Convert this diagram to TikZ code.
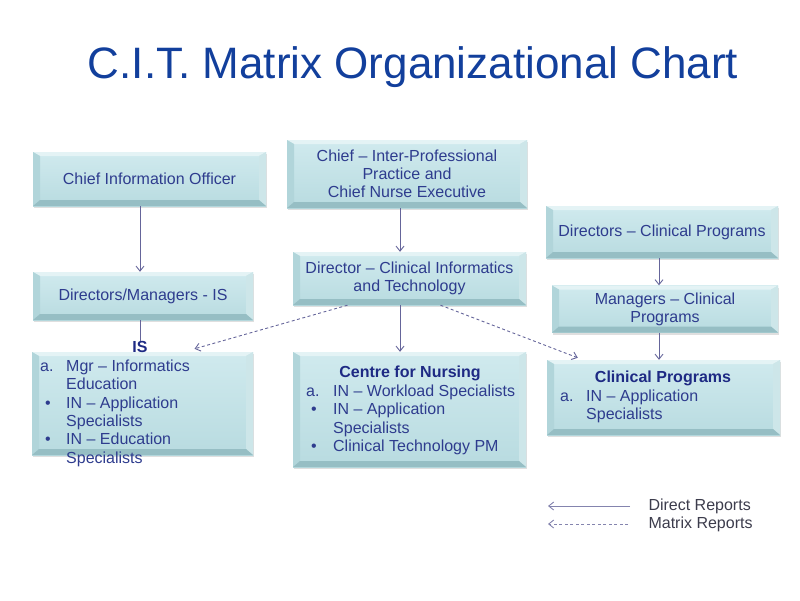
\documentclass[tikz,border=0pt]{standalone}
\usepackage{fontspec}
\setmainfont{Liberation Sans}
\usepackage{tikz}
\usetikzlibrary{arrows.meta,positioning,shadows}
\definecolor{titleblue}{HTML}{123F9C}
\definecolor{ink}{HTML}{2E3C8E}
\definecolor{inkbold}{HTML}{1E2A84}
\definecolor{face}{HTML}{B8DBE0}
\definecolor{facetop}{HTML}{D0EAEE}
\definecolor{edgelight}{HTML}{E4F3F5}
\definecolor{edgedark}{HTML}{96BEC4}
\definecolor{link}{HTML}{65659A}
\definecolor{legendtext}{HTML}{3C3C4C}

\begin{document}
\begin{tikzpicture}[x=1pt,y=-1pt,
    post/.style={inner sep=0pt,top color=facetop,bottom color=face,
                 drop shadow={opacity=0.25,shadow xshift=1pt,shadow yshift=-2pt},
                 path picture={
                   \coordinate (bnw) at (path picture bounding box.north west);
                   \coordinate (bne) at (path picture bounding box.north east);
                   \coordinate (bsw) at (path picture bounding box.south west);
                   \coordinate (bse) at (path picture bounding box.south east);
                   \fill[edgelight] (bnw) -- (bne) -- ([shift={(-7pt,-4pt)}]bne) -- ([shift={(7pt,-4pt)}]bnw) -- cycle;
                   \fill[face!80!edgedark] (bnw) -- ([shift={(7pt,-4pt)}]bnw) -- ([shift={(7pt,6pt)}]bsw) -- (bsw) -- cycle;
                   \fill[face!70!white] (bne) -- ([shift={(-7pt,-4pt)}]bne) -- ([shift={(-7pt,6pt)}]bse) -- (bse) -- cycle;
                   \fill[edgedark] (bsw) -- ([shift={(7pt,6pt)}]bsw) -- ([shift={(-7pt,6pt)}]bse) -- (bse) -- cycle;
                 }},
    lbl/.style={text=ink,font=\fontsize{16}{18}\selectfont,align=center},
    head/.style={text=inkbold,font=\fontsize{16}{18}\selectfont\bfseries,inner sep=0pt},
    items/.style={anchor=base west,inner sep=0pt,text=ink,font=\fontsize{16}{18.3}\selectfont},
    rep/.style={-{Straight Barb[length=5pt,width=8pt]},color=link,line width=0.9pt},
    mrep/.style={rep,dash pattern=on 3pt off 2.5pt}
  ]
    \useasboundingbox (0,0) rectangle (800,600);
    \node[text=titleblue,font=\fontsize{44}{50}\selectfont] (title) at (413,67)
         {C.I.T. Matrix Organizational Chart};

    % top row
    \node[post,lbl,minimum width=233pt,minimum height=54pt] (cio) at (149.5,179)
         {Chief Information Officer};
    \node[post,lbl,minimum width=240pt,minimum height=68pt] (cipp) at (407,174)
         {Chief – Inter-Professional\\Practice and\\Chief Nurse Executive};
    \node[post,lbl,minimum width=232pt,minimum height=52pt] (dcp) at (662,232)
         {Directors – Clinical Programs};

    % middle row
    \node[post,lbl,minimum width=220pt,minimum height=48pt] (dmis) at (143,296)
         {Directors/Managers - IS};
    \node[post,lbl,minimum width=233pt,minimum height=53pt] (dcit) at (409.5,278.5)
         {Director – Clinical Informatics\\and Technology};
    \node[post,lbl,minimum width=226pt,minimum height=47pt] (mcp) at (665,309)
         {Managers – Clinical\\Programs};

    % bottom row
    \node[post,minimum width=221pt,minimum height=103pt] (is) at (142.5,403.5) {};
    \node[post,minimum width=233pt,minimum height=115pt] (cfn) at (409.5,409.5) {};
    \node[post,minimum width=233pt,minimum height=75pt] (clp) at (663.5,397.5) {};

    \node[head] (ishead) at (140,347) {IS};
    \node[items] (islist) at (40,371.5)
         {\begin{tabular}[t]{@{}p{26pt}@{}l@{}}a. & Mgr – Informatics\\ & Education\\
          \hspace{5pt}• & IN – Application\\ & Specialists\\
          \hspace{5pt}• & IN – Education\\ & Specialists\end{tabular}};
    \node[head] (cfnhead) at (410,373) {Centre for Nursing};
    \node[items] (cfnlist) at (306,396.5)
         {\begin{tabular}[t]{@{}p{27pt}@{}l@{}}a. & IN – Workload Specialists\\
          \hspace{5pt}• & IN – Application\\ & Specialists\\
          \hspace{5pt}• & Clinical Technology PM\end{tabular}};
    \node[head] (clphead) at (663,378) {Clinical Programs};
    \node[items] (clplist) at (560,401.5)
         {\begin{tabular}[t]{@{}p{26pt}@{}l@{}}a. & IN – Application\\ & Specialists\end{tabular}};

    % direct reports
    \draw[rep] ([xshift=-3pt]dmis.north |- cio.south) -- ([xshift=-3pt]dmis.north);
    \draw[rep] ([xshift=-9.5pt]dcit.north |- cipp.south) -- ([xshift=-9.5pt]dcit.north);
    \draw[rep] ([xshift=-6pt]mcp.north |- dcp.south) -- ([xshift=-6pt]mcp.north);
    \draw[color=link,line width=0.9pt] ([xshift=-3pt]dmis.south) -- (ishead.north -| ishead.center);
    \draw[rep] ([xshift=-9.5pt]dcit.south) -- ([xshift=-9.5pt]dcit.south |- cfn.north);
    \draw[rep] ([xshift=-6pt]mcp.south) -- ([xshift=-6pt]mcp.south |- clp.north);

    % matrix reports
    \draw[mrep] ([xshift=-62pt]dcit.south) -- ([shift={(52pt,3pt)}]is.north);
    \draw[mrep] ([xshift=31pt]dcit.south) -- ([shift={(31pt,2pt)}]clp.north west);

    % legend
    \coordinate (dfrom) at (630,506);
    \coordinate (dto) at (548,506);
    \coordinate (mfrom) at (628,524);
    \coordinate (mto) at (548,524);
    \draw[rep,color=link!80] (dfrom) -- (dto);
    \draw[mrep,color=link!80] (mfrom) -- (mto);
    \node[anchor=west,text=legendtext,font=\fontsize{16}{18}\selectfont] (dtxt) at (645,506) {Direct Reports};
    \node[anchor=west,text=legendtext,font=\fontsize{16}{18}\selectfont] (mtxt) at (645,524) {Matrix Reports};
\end{tikzpicture}
\end{document}
